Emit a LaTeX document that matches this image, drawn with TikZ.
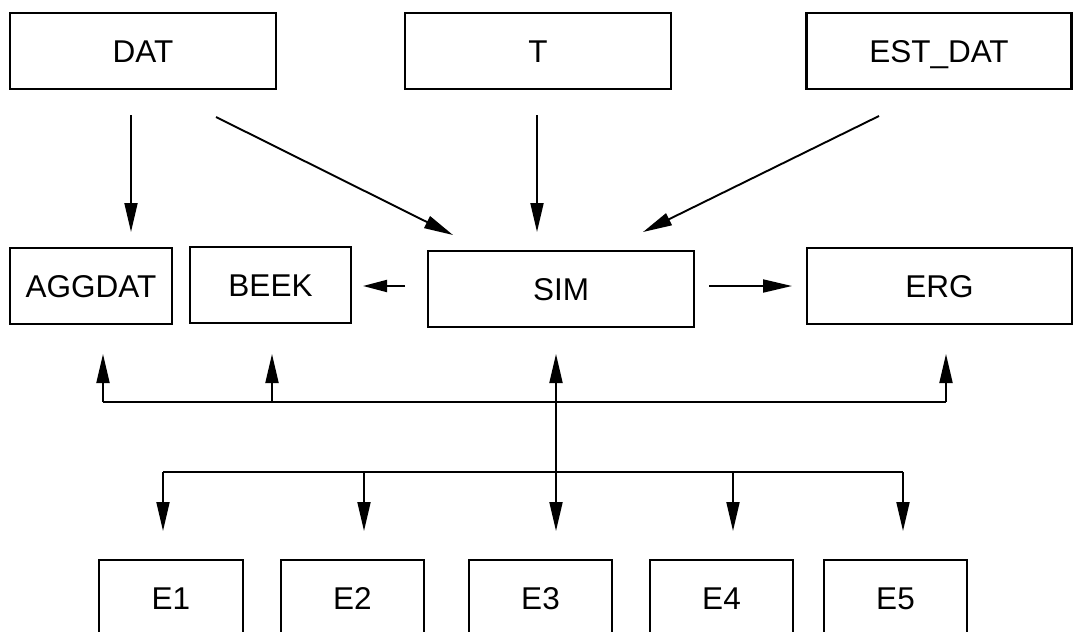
\documentclass[tikz,border=0pt]{standalone}
\usepackage{fontspec}
\setmainfont{Liberation Sans}
\usetikzlibrary{arrows.meta}
\begin{document}
\begin{tikzpicture}[x=1pt,y=-1pt,
  box/.style={draw,line width=2.6pt,inner sep=0pt,minimum height=76pt,
    text height=22.6pt,text depth=0pt,
    font=\fontsize{31.5}{36}\selectfont},
  conn/.style={line width=1.9pt},
  tip/.style={conn,-{Triangle[length=29pt,width=13pt]}},
  shorttip/.style={conn,-{Triangle[length=24pt,width=12pt]}}]
\useasboundingbox (0,0) rectangle (1074,632);
\clip (0,0) rectangle (1074,632);
% top row
\node[box,minimum width=266pt] (dat) at (143,51) {DAT};
\node[box,minimum width=266pt] (t) at (538,51) {T};
\node[box,minimum width=265pt] (est) at (939,51) {EST\_DAT};
% middle row
\node[box,minimum width=162pt] (aggdat) at (91,286) {AGGDAT};
\node[box,minimum width=161pt] (beek) at (270.5,285) {BEEK};
\node[box,minimum width=266pt] (sim) at (561,289) {SIM};
\node[box,minimum width=265pt] (erg) at (939.5,286) {ERG};
% bottom row
\node[box,minimum width=144pt] (e1) at (171,598) {E1};
\node[box,minimum width=143pt] (e2) at (352.5,598) {E2};
\node[box,minimum width=143pt] (e3) at (540.5,598) {E3};
\node[box,minimum width=143pt] (e4) at (721.5,598) {E4};
\node[box,minimum width=143pt] (e5) at (895.5,598) {E5};
% connector end points
\coordinate (datA) at (131,115); \coordinate (aggIn) at (131,232);
\coordinate (datB) at (216,117); \coordinate (simInA) at (453,235);
\coordinate (tA) at (537,115);   \coordinate (simInB) at (537,232);
\coordinate (estA) at (879,116); \coordinate (simInC) at (643,232);
\coordinate (simL) at (405,286); \coordinate (beekIn) at (363,286);
\coordinate (simR) at (709,286); \coordinate (ergIn) at (792,286);
% upper bus
\coordinate (ub1) at (103,402); \coordinate (ub2) at (272,402);
\coordinate (ub3) at (556,402); \coordinate (ub4) at (946,402);
\coordinate (aggUp) at (103,354); \coordinate (beekUp) at (272,354);
\coordinate (simUp) at (556,354); \coordinate (ergUp) at (946,354);
% lower bus
\coordinate (lb1) at (163,472); \coordinate (lb2) at (364,472);
\coordinate (lb3) at (556,472); \coordinate (lb4) at (733,472);
\coordinate (lb5) at (903,472);
\coordinate (e1In) at (163,531); \coordinate (e2In) at (364,531);
\coordinate (e3In) at (556,531); \coordinate (e4In) at (733,531);
\coordinate (e5In) at (903,531);
% top arrows
\draw[tip] (datA) -- (aggIn);
\draw[tip] (datB) -- (simInA);
\draw[tip] (tA) -- (simInB);
\draw[tip] (estA) -- (simInC);
\draw[shorttip] (simL) -- (beekIn);
\draw[tip] (simR) -- (ergIn);
% buses
\draw[conn] (ub1) -- (ub4);
\draw[conn] (ub3) -- (lb3);
\draw[conn] (lb1) -- (lb5);
\draw[tip] (ub1) -- (aggUp);
\draw[tip] (ub2) -- (beekUp);
\draw[tip] (ub3) -- (simUp);
\draw[tip] (ub4) -- (ergUp);
\draw[tip] (lb1) -- (e1In);
\draw[tip] (lb2) -- (e2In);
\draw[tip] (lb3) -- (e3In);
\draw[tip] (lb4) -- (e4In);
\draw[tip] (lb5) -- (e5In);
\end{tikzpicture}
\end{document}
